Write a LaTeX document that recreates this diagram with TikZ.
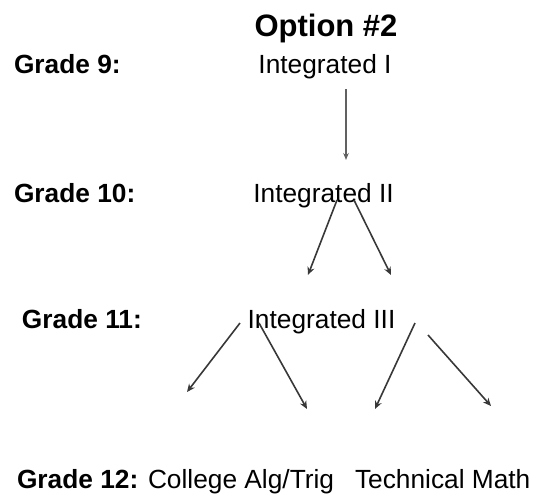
\documentclass[tikz,border=0pt]{standalone}
\usepackage{fontspec}
\setmainfont{Liberation Sans}
\usetikzlibrary{arrows.meta}
\begin{document}
\begin{tikzpicture}[x=1pt,y=-1pt,
  txt/.style={inner sep=0pt, outer sep=0pt, font=\fontsize{26.3}{30}\selectfont},
  grade/.style={txt, font=\fontsize{26.3}{30}\selectfont\bfseries, anchor=base west},
  course/.style={txt, anchor=base},
  titlestyle/.style={txt, font=\fontsize{31}{36}\selectfont\bfseries, anchor=base},
  conn/.style={draw=black!78, line width=1.6pt, -{Stealth[length=8pt,width=7pt]}},
  thinconn/.style={draw=black!62, line width=1.1pt, -{Stealth[length=7pt,width=5.5pt]}},
]
\useasboundingbox (0,0) rectangle (542,499);
% title
\node[titlestyle] (title) at (326,36) {Option \#2};
% grade labels
\node[grade] (g9) at (14,73) {Grade 9:};
\node[grade] (g10) at (14,202) {Grade 10:};
\node[grade] (g11) at (22,328) {Grade 11:};
\node[grade] (g12) at (17,488) {Grade 12:};
% courses
\node[course] (i1) at (325,73) {Integrated I};
\node[course] (i2) at (323.5,202) {Integrated II};
\node[course] (i3) at (321.5,328) {Integrated III};
\node[txt, anchor=base west] (cat) at (148,488) {College Alg/Trig};
\node[txt, anchor=base west] (tm) at (355,488) {Technical Math};
% arrow end points
\coordinate (a1s) at (346,89);  \coordinate (a1e) at (346,160);
\coordinate (a2s) at (337,200); \coordinate (a2e) at (308,275);
\coordinate (a3s) at (354,200); \coordinate (a3e) at (391,275);
\coordinate (a4s) at (240,323); \coordinate (a4e) at (187,392);
\coordinate (a5s) at (259,323); \coordinate (a5e) at (307,409);
\coordinate (a6s) at (415,323); \coordinate (a6e) at (375,409);
\coordinate (a7s) at (428,335); \coordinate (a7e) at (491,406);
% connectors
\draw[thinconn] (a1s) -- (a1e);
\draw[conn] (a2s) -- (a2e);
\draw[conn] (a3s) -- (a3e);
\draw[conn] (a4s) -- (a4e);
\draw[conn] (a5s) -- (a5e);
\draw[conn] (a6s) -- (a6e);
\draw[conn] (a7s) -- (a7e);
\end{tikzpicture}
\end{document}
